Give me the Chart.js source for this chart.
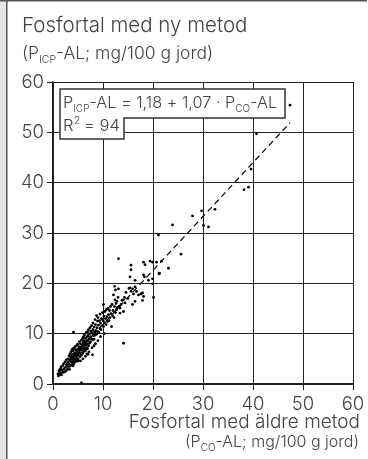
<!DOCTYPE html>
<html>
<head>
<meta charset="utf-8">
<script src="https://cdn.jsdelivr.net/npm/chart.js@4/dist/chart.umd.min.js"></script>
<style>
  body { margin: 0; background: #fff; }
  #wrap { width: 368px; height: 459px; }
</style>
</head>
<body>
<div id="wrap"><canvas id="chart" width="368" height="459"></canvas></div>
<script>
// P-AL med äldre metod (x) och ny ICP-metod (y), mg/100 g jord
const oldMethod = [
  1.0, 1.1, 1.2, 1.3, 1.4, 1.5, 1.6, 1.7, 1.8, 1.9, 2.0, 2.1, 2.2, 2.3, 2.4, 2.5, 2.6, 2.7, 2.8, 2.9, 3.0, 3.0, 3.1,
  3.2, 3.2, 3.3, 3.4, 3.4, 3.5, 3.5, 3.6, 3.6, 3.7, 3.7, 3.8, 3.8, 3.9, 3.9, 4.0, 4.0, 4.0, 4.1, 4.1, 4.1,
  4.2, 4.2, 4.3, 4.3, 4.4, 4.4, 4.5, 4.5, 4.6, 4.6, 4.7, 4.7, 4.8, 4.8, 4.9, 4.9, 5.0, 5.0, 5.1, 5.1, 5.2, 5.2,
  5.3, 5.3, 5.4, 5.4, 5.5, 5.5, 5.6, 5.6, 5.7, 5.7, 5.7, 5.8, 5.8, 5.9, 5.9, 6.0, 6.0, 6.1, 6.1, 6.1, 6.2, 6.2,
  6.3, 6.3, 6.4, 6.4, 6.5, 6.5, 6.6, 6.6, 6.7, 6.7, 6.8, 6.8, 6.9, 6.9, 7.0, 7.0, 7.1, 7.1, 7.2,
  7.3, 7.3, 7.4, 7.5, 7.5, 7.6, 7.7, 7.7, 7.8, 7.9, 7.9, 8.0, 8.0, 8.1, 8.2, 8.2, 8.3, 8.4, 8.4, 8.5, 8.6,
  8.7, 8.7, 8.8, 8.9, 9.0, 9.0, 9.1, 9.2, 9.3, 9.4, 9.4, 9.5, 9.6, 9.7, 9.8, 9.9,
  5.5, 6.0, 6.5, 6.8, 7.0, 7.2, 7.8, 8.2, 8.5, 9.0, 9.5, 10.2,
  10.0, 10.1, 10.1, 10.2, 10.3, 10.4, 10.5, 10.6, 10.7, 10.8, 10.9, 11.0, 11.1, 11.2, 11.3, 11.4, 11.5,
  11.6, 11.7, 11.8, 11.9, 12.0, 12.1, 12.2, 12.3, 12.3, 12.4, 12.5, 12.5, 12.6, 12.7, 12.8, 12.9, 13.0,
  13.1, 13.1, 13.2, 13.4, 13.4, 13.6, 13.8, 14.1, 14.1, 14.1, 14.3, 14.4, 14.6, 15.0, 15.2, 15.4, 15.4,
  15.6, 15.6, 15.6, 15.9, 15.9, 16.1, 16.4, 16.4, 16.4, 16.7,
  17.1, 17.6, 17.9, 17.9, 18.1, 18.1, 18.1, 18.3, 18.4, 19.1, 19.4, 19.9, 19.9, 19.9, 20.1, 20.7, 21.1,
  21.2, 21.3, 21.7,
  23.1, 23.9, 25.6, 27.9, 29.7, 30.1, 31.1, 32.4, 38.2, 39.1, 39.6, 40.7, 47.4
];
const newMethod = [
  2.0, 1.6, 2.6, 1.9, 2.9, 2.2, 3.4, 1.8, 2.7, 3.6, 2.3, 4.0, 3.0, 2.4, 4.4, 3.3, 2.6, 4.8, 3.7, 2.9, 4.3, 5.0, 3.4,
  4.0, 5.6, 2.9, 4.7, 6.0, 3.6, 5.2, 4.4, 6.4, 3.8, 5.5, 4.9, 6.8, 4.2, 5.9, 3.6, 5.1, 6.6, 4.6, 7.1, 10.3,
  5.5, 4.0, 6.2, 5.0, 7.4, 4.4, 5.7, 6.8, 4.8, 6.1, 7.6, 5.3, 4.5, 6.5, 5.8, 7.9, 5.0, 6.9, 6.2, 4.6, 7.4, 5.6,
  6.6, 8.4, 5.4, 7.0, 6.1, 8.0, 7.3, 5.7, 0.2, 6.7, 8.7, 7.6, 5.9, 6.9, 9.0, 7.9, 6.2, 8.3, 9.4, 7.1, 6.5, 8.6,
  7.6, 9.8, 7.0, 8.2, 6.6, 9.1, 7.8, 10.2, 8.6, 7.2, 9.4, 8.0, 7.0, 10.4, 8.6, 9.6, 7.6, 10.8, 9.0,
  8.1, 10.0, 11.2, 9.4, 8.4, 10.5, 9.0, 11.6, 10.1, 5.8, 8.8, 10.8, 12.1, 9.6, 11.3, 8.9, 10.4, 12.8, 9.7, 11.8, 10.6,
  13.6, 9.9, 11.2, 12.5, 10.4, 13.2, 11.7, 10.2, 12.6, 11.0, 13.9, 12.1, 10.8, 13.0, 11.6, 14.2,
  4.6, 5.0, 5.5, 6.0, 5.9, 6.4, 7.2, 7.6, 8.0, 8.6, 9.4, 10.0,
  12.6, 15.8, 11.4, 13.5, 12.2, 14.4, 13.0, 11.8, 14.8, 13.4, 12.4, 15.0, 13.8, 12.6, 14.6, 13.2, 15.4,
  14.0, 11.4, 15.8, 13.6, 14.6, 17.7, 13.2, 19.4, 15.4, 16.7, 18.7, 14.2, 16.0, 14.8, 16.4, 15.2, 17.2,
  18.9, 24.9, 15.4, 14.1, 15.1, 15.8, 16.6, 14.4, 16.7, 8.1, 17.2, 16.1, 18.2, 17.0, 19.0, 19.1, 21.3,
  18.4, 22.7, 23.6, 18.9, 15.8, 17.9, 19.3, 20.6, 16.4, 18.4,
  17.7, 17.9, 18.1, 16.6, 17.4, 21.7, 24.2, 21.3, 23.7, 20.6, 24.4, 24.2, 20.9, 19.9, 17.2, 24.2, 29.6,
  21.9, 22.0, 24.4,
  23.0, 31.6, 25.8, 33.4, 34.4, 31.5, 31.2, 34.7, 38.6, 39.1, 42.7, 49.7, 55.4
];

// regression P_ICP-AL = 1,18 + 1,07 * P_CO-AL
const intercept = 1.18;
const slope = 1.07;
const fitRange = [1, 47.4];

const tickValues = [0, 10, 20, 30, 40, 50, 60];

const textColor = '#444';
const lineColor = '#222';
const fontFamily = 'Inter, "Liberation Sans", Arial, sans-serif';
const weight = '300 ';

const points = oldMethod.map((x, i) => ({ x: x, y: newMethod[i] }));
const fitLine = fitRange.map(x => ({ x: x, y: intercept + slope * x }));

// text with subscripts: parts = [[text, isSub], ...]
function richWidth(ctx, parts, size, subSize) {
  let w = 0;
  parts.forEach(p => {
    ctx.font = weight + (p[1] ? subSize : size) + 'px ' + fontFamily;
    w += ctx.measureText(p[0]).width;
  });
  return w;
}

function drawRich(ctx, parts, x, y, size, subSize, align) {
  let cx = align === 'right' ? x - richWidth(ctx, parts, size, subSize) : x;
  ctx.textAlign = 'left';
  ctx.textBaseline = 'alphabetic';
  parts.forEach(p => {
    ctx.font = weight + (p[1] ? subSize : size) + 'px ' + fontFamily;
    ctx.fillText(p[0], cx, p[1] ? y + 4 : y);
    cx += ctx.measureText(p[0]).width;
  });
}

const framePlugin = {
  id: 'frame',
  beforeDraw(chart) {
    const ctx = chart.ctx;
    ctx.save();
    ctx.fillStyle = '#fff';
    ctx.fillRect(0, 0, chart.width, chart.height);
    ctx.fillStyle = '#e6e6e6';
    ctx.fillRect(0, 0, 6, chart.height);
    ctx.strokeStyle = '#555';
    ctx.lineWidth = 1.5;
    ctx.beginPath();
    ctx.moveTo(0, 0.75);
    ctx.lineTo(chart.width - 1, 0.75);
    ctx.moveTo(6.75, 0);
    ctx.lineTo(6.75, chart.height);
    ctx.stroke();
    ctx.restore();
  }
};

const labelsPlugin = {
  id: 'labels',
  afterDatasetsDraw(chart) {
    const ctx = chart.ctx;
    ctx.save();
    ctx.fillStyle = textColor;

    // axis titles
    ctx.font = weight + '20.5px ' + fontFamily;
    ctx.textAlign = 'left';
    ctx.fillText('Fosfortal med ny metod', 22, 32);
    drawRich(ctx, [['(P', false], ['ICP', true], ['-AL; mg/100 g jord)', false]], 22, 59, 17.5, 10.5, 'left');

    ctx.font = weight + '19px ' + fontFamily;
    ctx.textAlign = 'right';
    ctx.fillText('Fosfortal med äldre metod', 360, 428);
    drawRich(ctx, [['(P', false], ['CO', true], ['-AL; mg/100 g jord)', false]], 359, 447, 16, 10, 'right');

    // equation box
    ctx.fillStyle = '#fff';
    ctx.strokeStyle = '#333';
    ctx.lineWidth = 1.5;
    ctx.beginPath();
    ctx.moveTo(60, 89);
    ctx.lineTo(285, 89);
    ctx.lineTo(285, 118);
    ctx.lineTo(124, 118);
    ctx.lineTo(124, 139);
    ctx.lineTo(60, 139);
    ctx.closePath();
    ctx.fill();
    ctx.stroke();

    ctx.fillStyle = textColor;
    drawRich(ctx, [['P', false], ['ICP', true], ['-AL = 1,18 + 1,07 \u00b7 P', false], ['CO', true], ['-AL', false]],
      63, 108, 16.3, 10, 'left');
    ctx.font = weight + '16.5px ' + fontFamily;
    ctx.textAlign = 'left';
    ctx.fillText('R', 63, 131);
    const rw = ctx.measureText('R').width;
    ctx.font = weight + '10px ' + fontFamily;
    ctx.fillText('2', 63 + rw + 0.5, 124);
    ctx.font = weight + '16.5px ' + fontFamily;
    ctx.fillText(' = 94', 63 + rw + 6, 131);
    ctx.restore();
  }
};

function axis(fitKey) {
  return {
    type: 'linear',
    min: 0,
    max: 60,
    afterBuildTicks: s => { s.ticks = tickValues.map(v => ({ value: v })); },
    afterFit: s => { s[fitKey] = fitKey === 'width' ? 53 : 75; },
    grid: { color: lineColor, lineWidth: 1, tickLength: 6, tickColor: lineColor },
    border: { display: true, color: lineColor, width: 1.2 },
    ticks: {
      color: textColor,
      padding: 3,
      font: { family: fontFamily, size: 18.5, weight: '300' }
    }
  };
}

new Chart(document.getElementById('chart'), {
  type: 'scatter',
  data: {
    datasets: [
      {
        data: points,
        pointRadius: 1.4,
        pointBorderWidth: 0,
        pointBackgroundColor: '#000'
      },
      {
        type: 'line',
        data: fitLine,
        borderColor: '#000',
        borderWidth: 1.2,
        borderDash: [6, 4],
        pointRadius: 0,
        fill: false
      }
    ]
  },
  options: {
    responsive: false,
    animation: false,
    layout: { padding: { top: 82, right: 15, left: 0, bottom: 0 } },
    plugins: { legend: { display: false }, tooltip: { enabled: false } },
    scales: {
      x: axis('height'),
      y: axis('width')
    }
  },
  plugins: [framePlugin, labelsPlugin]
});
</script>
</body>
</html>
